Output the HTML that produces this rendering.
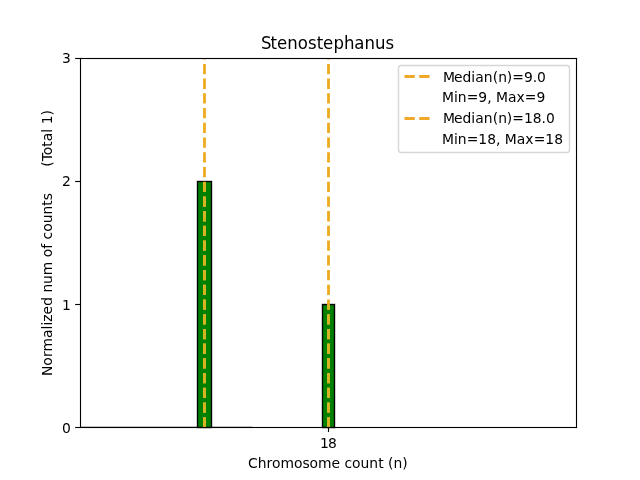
<!DOCTYPE html>
<html>
<head>
<meta charset="utf-8">
<title>Stenostephanus</title>
<style>
html,body{margin:0;padding:0;background:#fff;}
body{width:640px;height:480px;overflow:hidden;}
svg{display:block;}
text{font-family:"DejaVu Sans","Liberation Sans",sans-serif;fill:#000;}
.t10{font-size:13.889px;}
.t12{font-size:16.667px;}
</style>
</head>
<body>
<svg width="640" height="480" viewBox="0 0 640 480">
<rect x="0" y="0" width="640" height="480" fill="#ffffff"/>
<!-- bars -->
<g fill="#008000" stroke="#000000" stroke-width="1.389" stroke-linejoin="miter">
<rect x="80" y="426.8" width="172.4" height="0.6" fill="#000000" stroke="none"/>
<rect x="197.5" y="181.5" width="14" height="246"/>
<rect x="322.5" y="304.5" width="12" height="123"/>
</g>
<!-- median lines -->
<defs><clipPath id="inbar"><rect x="198.2" y="182.2" width="12.6" height="245"/><rect x="323.2" y="305.2" width="10.6" height="122"/></clipPath></defs>
<g stroke="#eeaa1e" stroke-width="2.778" stroke-dasharray="10.278 4.444" fill="none">
<path d="M204.5 427.5V58.5"/>
<path d="M328.5 427.5V58.5"/>
</g>
<g stroke="#d6b522" stroke-width="2.778" stroke-dasharray="10.278 4.444" fill="none" clip-path="url(#inbar)">
<path d="M204.5 427.5V58.5"/>
<path d="M328.5 427.5V58.5"/>
</g>
<!-- ticks -->
<g stroke="#000000" stroke-width="1.111" fill="none">
<path d="M328.5 427.2V432.06"/>
<path d="M80 427.5H75.14"/>
<path d="M80 304.5H75.14"/>
<path d="M80 181.5H75.14"/>
<path d="M80 58.5H75.14"/>
</g>
<!-- spines -->
<g fill="#000000">
<rect x="79.944" y="57.944" width="1.111" height="370.111"/>
<rect x="575.944" y="57.944" width="1.111" height="370.111"/>
<rect x="79.944" y="426.944" width="497.111" height="1.111"/>
<rect x="79.944" y="57.944" width="497.111" height="1.111"/>
</g>
<!-- tick labels -->
<g class="t10">
<text x="319.92 327.98" y="447.92">18</text>
<text x="61.92" y="432.7">0</text>
<text x="61.92" y="309.5">1</text>
<text x="61.92" y="186.3">2</text>
<text x="61.92" y="63.1">3</text>
<text x="247.88 257.82 266.6 272.01 280.49 294.01 302.51 309.48 317.96 331.48 340.02 344.43 352.05 360.55 369.34 378.13 383.57 387.99 393.4 402.2" y="468">Chromosome count (n)</text>
<text transform="translate(52 242.9) rotate(-90)" xml:space="preserve" x="-133.1 -122.98 -113.99 -108.52 -95.01 -86.51 -82.66 -78.8 -71.52 -62.98 -54.18 -49.51 -41.23 -32.43 -18.66 -14.26 -5.76 -0.88 3.29 11.16 19.65 28.45 37.24 42.68 49.91 54.32 58.73 63.13 67.55 71.96 76.12 81.54 87.65 96.13 101.59 110.09 114.18 118.6 127.43">Normalized num of counts      (Total 1)</text>
</g>
<text class="t12" transform="translate(327.25 49) scale(0.995 1.08)" x="-66.6 -57.04 -50.51 -40.26 -29.7 -19.26 -10.58 -4.3 6.2 16.78 27.08 37.54 48.09 58.66">Stenostephanus</text>
<!-- legend -->
<rect x="398.5" y="65.5" width="171" height="87" rx="2.778" ry="2.778" fill="#ffffff" fill-opacity="0.8" stroke="#cccccc" stroke-opacity="0.8" stroke-width="1.389"/>
<g stroke="#efa828" stroke-width="2.778" stroke-dasharray="10.278 4.444" fill="none">
<path d="M404.5 76.5H432.28"/>
<path d="M404.5 118.5H432.28"/>
</g>
<g class="t10">
<text x="443 453.97 462.5 471.31 475.16 483.67 492.7 498.13 506.67 512.33 523.95 532.78 536.94" y="82">Median(n)=9.0</text>
<text x="442 453.97 457.81 466.86 478.23 487.31 491.47 495.89 508.11 516.61 524.83 536.45" y="102">Min=9, Max=9</text>
<text x="443 453.97 462.5 471.31 475.16 483.67 492.7 498.13 506.67 512.33 523.95 532.78 541.61 546.02" y="123">Median(n)=18.0</text>
<text x="442 453.97 457.81 466.86 478.23 487.31 495.89 500.3 504.72 516.69 525.19 533.66 545.28 554.36" y="144">Min=18, Max=18</text>
</g>
</svg>
</body>
</html>
